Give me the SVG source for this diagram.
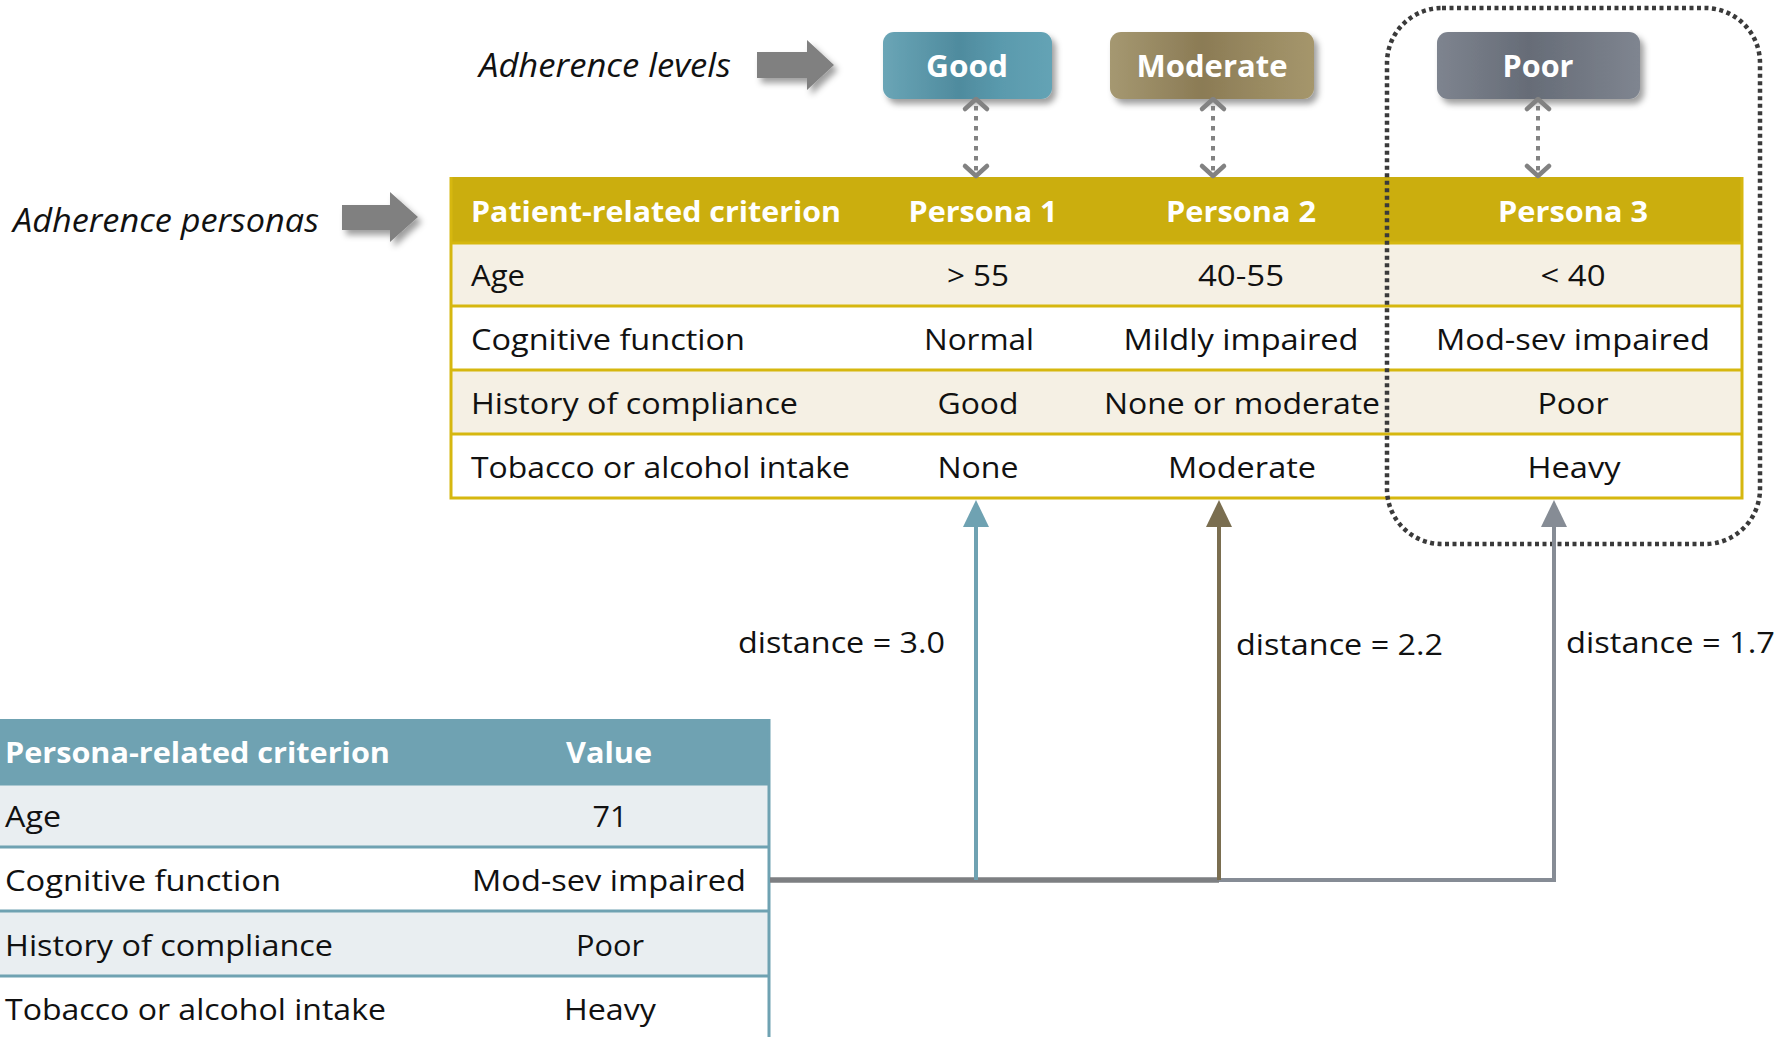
<svg xmlns="http://www.w3.org/2000/svg" width="1791" height="1037" viewBox="0 0 1791 1037">
  <style>
    text { font-family: "Open Sans", "Noto Sans", "Liberation Sans", sans-serif; fill: #111; }
    .reg { font-size: 29px; }
    .hdr { font-size: 29px; font-weight: bold; fill: #ffffff; }
    .lvl { font-size: 30px; font-weight: bold; fill: #ffffff; }
    .ital { font-size: 33px; font-style: italic; }
    .mid { text-anchor: middle; }
    .goldline { stroke: #d6b70f; stroke-width: 3; fill: none; }
    .tealline { stroke: #6fa2b2; stroke-width: 3; fill: none; }
    .dotted { stroke: #828282; stroke-width: 4; stroke-dasharray: 4.5 5.5; fill: none; }
    .chev { stroke: #828282; stroke-width: 4.5; fill: none; stroke-linecap: round; stroke-linejoin: round; }
  </style>
  <defs>
    <filter id="shadow" x="-20%" y="-20%" width="150%" height="160%">
      <feDropShadow dx="4" dy="5" stdDeviation="3" flood-color="#000" flood-opacity="0.38"/>
    </filter>
    <linearGradient id="gGood" x1="0" y1="0" x2="1" y2="0">
      <stop offset="0" stop-color="#6aa5b6"/>
      <stop offset="0.45" stop-color="#4f8b9e"/>
      <stop offset="0.7" stop-color="#5a9aad"/>
      <stop offset="1" stop-color="#64a3b5"/>
    </linearGradient>
    <linearGradient id="gMod" x1="0" y1="0" x2="1" y2="0">
      <stop offset="0" stop-color="#a59871"/>
      <stop offset="0.45" stop-color="#8b7b55"/>
      <stop offset="0.75" stop-color="#9a8b62"/>
      <stop offset="1" stop-color="#a5966c"/>
    </linearGradient>
    <linearGradient id="gPoor" x1="0" y1="0" x2="1" y2="0">
      <stop offset="0" stop-color="#7e848f"/>
      <stop offset="0.45" stop-color="#666c77"/>
      <stop offset="0.75" stop-color="#737984"/>
      <stop offset="1" stop-color="#7f8590"/>
    </linearGradient>
  </defs>

  <rect width="1791" height="1037" fill="#ffffff"/>

  <!-- Row labels with block arrows -->
  <g id="label-levels">
    <text class="ital" x="479" y="77" textLength="252" lengthAdjust="spacingAndGlyphs">Adherence levels</text>
    <path d="M757,52 H807 V40 L834,65 L807,90 V78 H757 Z" fill="#808080" filter="url(#shadow)"/>
  </g>
  <g id="label-personas">
    <text class="ital" x="13" y="232" textLength="306" lengthAdjust="spacingAndGlyphs">Adherence personas</text>
    <path d="M342,205 H390 V192 L418,217 L390,242 V230 H342 Z" fill="#808080" filter="url(#shadow)"/>
  </g>

  <!-- Adherence level boxes -->
  <g id="level-good">
    <rect x="883" y="32" width="169" height="67" rx="11" fill="url(#gGood)" filter="url(#shadow)"/>
    <text class="lvl mid" x="967" y="77" textLength="82" lengthAdjust="spacingAndGlyphs">Good</text>
  </g>
  <g id="level-moderate">
    <rect x="1110" y="32" width="204" height="67" rx="11" fill="url(#gMod)" filter="url(#shadow)"/>
    <text class="lvl mid" x="1212" y="77" textLength="151" lengthAdjust="spacingAndGlyphs">Moderate</text>
  </g>
  <g id="level-poor">
    <rect x="1437" y="32" width="203" height="67" rx="11" fill="url(#gPoor)" filter="url(#shadow)"/>
    <text class="lvl mid" x="1538" y="77" textLength="71" lengthAdjust="spacingAndGlyphs">Poor</text>
  </g>

  <!-- Persona table -->
  <g id="persona-table">
    <rect x="451" y="177" width="1291" height="66" fill="#cbae0e"/>
    <rect x="451" y="243" width="1291" height="63" fill="#f5f0e4"/>
    <rect x="451" y="306" width="1291" height="64" fill="#ffffff"/>
    <rect x="451" y="370" width="1291" height="64" fill="#f5f0e4"/>
    <rect x="451" y="434" width="1291" height="64" fill="#ffffff"/>
    <path class="goldline" d="M451,177 V498 H1742 V177 M451,243 H1742 M451,306 H1742 M451,370 H1742 M451,434 H1742"/>

    <text class="hdr" x="471" y="222" textLength="370" lengthAdjust="spacingAndGlyphs">Patient-related criterion</text>
    <text class="hdr mid" x="983" y="222" textLength="149" lengthAdjust="spacingAndGlyphs">Persona 1</text>
    <text class="hdr mid" x="1241" y="222" textLength="150" lengthAdjust="spacingAndGlyphs">Persona 2</text>
    <text class="hdr mid" x="1573" y="222" textLength="150" lengthAdjust="spacingAndGlyphs">Persona 3</text>

    <text class="reg" x="471" y="286" textLength="54" lengthAdjust="spacingAndGlyphs">Age</text>
    <text class="reg mid" x="978" y="286" textLength="62" lengthAdjust="spacingAndGlyphs">&gt; 55</text>
    <text class="reg mid" x="1241" y="286" textLength="86" lengthAdjust="spacingAndGlyphs">40-55</text>
    <text class="reg mid" x="1573" y="286" textLength="65" lengthAdjust="spacingAndGlyphs">&lt; 40</text>

    <text class="reg" x="471" y="350" textLength="274" lengthAdjust="spacingAndGlyphs">Cognitive function</text>
    <text class="reg mid" x="979" y="350" textLength="110" lengthAdjust="spacingAndGlyphs">Normal</text>
    <text class="reg mid" x="1241" y="350" textLength="235" lengthAdjust="spacingAndGlyphs">Mildly impaired</text>
    <text class="reg mid" x="1573" y="350" textLength="274" lengthAdjust="spacingAndGlyphs">Mod-sev impaired</text>

    <text class="reg" x="471" y="414" textLength="327" lengthAdjust="spacingAndGlyphs">History of compliance</text>
    <text class="reg mid" x="978" y="414" textLength="81" lengthAdjust="spacingAndGlyphs">Good</text>
    <text class="reg mid" x="1242" y="414" textLength="276" lengthAdjust="spacingAndGlyphs">None or moderate</text>
    <text class="reg mid" x="1573" y="414" textLength="71" lengthAdjust="spacingAndGlyphs">Poor</text>

    <text class="reg" x="471" y="478" textLength="379" lengthAdjust="spacingAndGlyphs">Tobacco or alcohol intake</text>
    <text class="reg mid" x="978" y="478" textLength="81" lengthAdjust="spacingAndGlyphs">None</text>
    <text class="reg mid" x="1242" y="478" textLength="148" lengthAdjust="spacingAndGlyphs">Moderate</text>
    <text class="reg mid" x="1574" y="478" textLength="93" lengthAdjust="spacingAndGlyphs">Heavy</text>
  </g>

  <!-- Patient table -->
  <g id="patient-table">
    <rect x="0" y="719" width="769" height="65" fill="#6fa2b2"/>
    <rect x="0" y="784" width="769" height="63" fill="#e9eef1"/>
    <rect x="0" y="847" width="769" height="64" fill="#ffffff"/>
    <rect x="0" y="911" width="769" height="65" fill="#e9eef1"/>
    <rect x="0" y="976" width="769" height="70" fill="#ffffff"/>
    <path class="tealline" d="M769,719 V1040 M0,784 H769 M0,847 H769 M0,911 H769 M0,976 H769"/>

    <text class="hdr" x="5" y="763" textLength="385" lengthAdjust="spacingAndGlyphs">Persona-related criterion</text>
    <text class="hdr mid" x="609" y="763" textLength="86" lengthAdjust="spacingAndGlyphs">Value</text>

    <text class="reg" x="5" y="827" textLength="56" lengthAdjust="spacingAndGlyphs">Age</text>
    <text class="reg mid" x="610" y="827" textLength="35" lengthAdjust="spacingAndGlyphs">71</text>
    <text class="reg" x="5" y="891" textLength="276" lengthAdjust="spacingAndGlyphs">Cognitive function</text>
    <text class="reg mid" x="609" y="891" textLength="274" lengthAdjust="spacingAndGlyphs">Mod-sev impaired</text>
    <text class="reg" x="5" y="956" textLength="328" lengthAdjust="spacingAndGlyphs">History of compliance</text>
    <text class="reg mid" x="610" y="956" textLength="68" lengthAdjust="spacingAndGlyphs">Poor</text>
    <text class="reg" x="5" y="1020" textLength="381" lengthAdjust="spacingAndGlyphs">Tobacco or alcohol intake</text>
    <text class="reg mid" x="610" y="1020" textLength="92" lengthAdjust="spacingAndGlyphs">Heavy</text>
  </g>

  <!-- Highlight around the closest persona -->
  <g id="closest-highlight">
    <rect x="1387" y="8" width="373" height="536" rx="55" fill="none" stroke="#3a3a3a" stroke-width="4.5" stroke-dasharray="4 3.5"/>
  </g>

  <!-- Connectors -->
  <g id="connectors">
    <!-- level-to-persona links -->
    <path class="dotted" d="M976,106 V172"/>
    <path class="chev" d="M965,109 L976,99 L987,109 M965,166 L976,176 L987,166"/>
    <path class="dotted" d="M1213,106 V172"/>
    <path class="chev" d="M1202,109 L1213,99 L1224,109 M1202,166 L1213,176 L1224,166"/>
    <path class="dotted" d="M1538,106 V172"/>
    <path class="chev" d="M1527,109 L1538,99 L1549,109 M1527,166 L1538,176 L1549,166"/>

    <!-- distance links from patient to personas -->
    <path d="M770,880 H1554 V524" fill="none" stroke="#868c95" stroke-width="4"/>
    <path d="M770,880 H1219" fill="none" stroke="#7d7f82" stroke-width="5.5"/>
    <path d="M976,880 V524" fill="none" stroke="#6fa2b2" stroke-width="4"/>
    <path d="M1219,880 V524" fill="none" stroke="#7a6e50" stroke-width="4"/>
    <path d="M976,500 L989,527 H963 Z" fill="#6fa2b2"/>
    <path d="M1219,500 L1232,527 H1206 Z" fill="#7a6e50"/>
    <path d="M1554,500 L1567,527 H1541 Z" fill="#868c95"/>

    <text class="reg" x="738" y="653" textLength="207" lengthAdjust="spacingAndGlyphs">distance = 3.0</text>
    <text class="reg" x="1236" y="655" textLength="207" lengthAdjust="spacingAndGlyphs">distance = 2.2</text>
    <text class="reg" x="1566" y="653" textLength="209" lengthAdjust="spacingAndGlyphs">distance = 1.7</text>
  </g>
</svg>
